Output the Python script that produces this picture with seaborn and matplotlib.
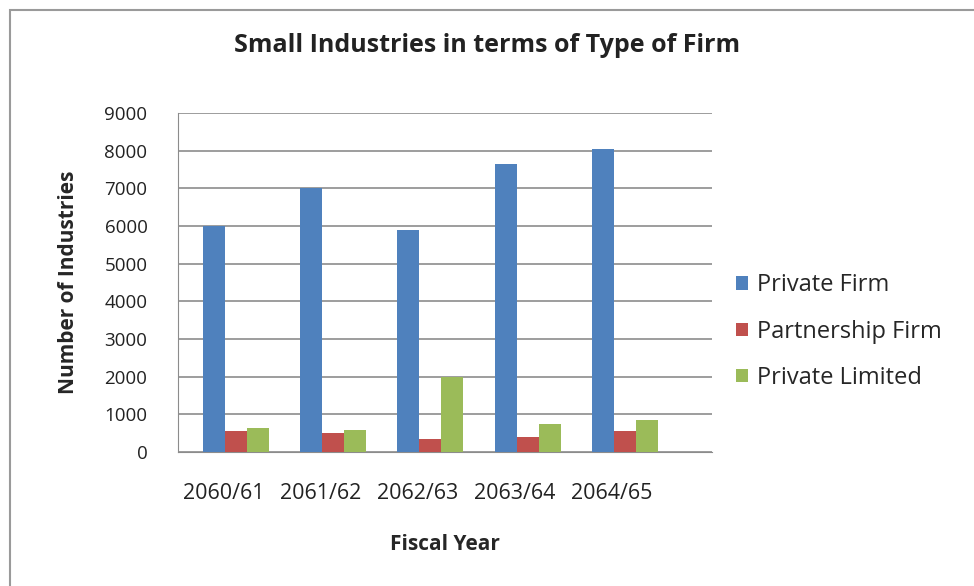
import pandas as pd
import seaborn as sns
import matplotlib.pyplot as plt
from matplotlib.patches import Rectangle
import numpy as np

years = ["2060/61", "2061/62", "2062/63", "2063/64", "2064/65"]
private_firm = [6000, 7000, 5900, 7650, 8050]
partnership_firm = [560, 500, 350, 400, 550]
private_limited = [650, 580, 2000, 750, 850]

series_names = ["Private Firm", "Partnership Firm", "Private Limited"]
colors = ["#4F81BD", "#C0504D", "#9BBB59"]

df = pd.DataFrame({
    "Year": years * 3,
    "Type": [s for s in series_names for _ in years],
    "Value": private_firm + partnership_firm + private_limited,
})

sns.set_style("white")
plt.rcParams['font.family'] = ['Open Sans', 'DejaVu Sans']

fig = plt.figure(figsize=(9.74, 5.86), dpi=100)
fig.patches.append(Rectangle((10 / 974, -0.01), 1.0, (586 - 10) / 586 + 0.01,
                             transform=fig.transFigure, fill=False,
                             edgecolor="#9a9a9a", linewidth=1.5))

ax = fig.add_axes([178 / 974, (586 - 452) / 586, 534 / 974, 339 / 586])
sns.barplot(data=df, x="Year", y="Value", hue="Type", palette=colors,
            saturation=1, width=0.68, ax=ax, legend=True,
            edgecolor="none", zorder=3)

ax.set_ylim(0, 9000)
ax.set_xlim(-0.6, 4.9)
ax.set_yticks(range(0, 9001, 1000))
ax.yaxis.grid(True, color="#8c8c8c", linewidth=1.2, zorder=0)
ax.set_xticks(np.arange(len(years)) - 0.13)
ax.set_xticklabels(years)
ax.tick_params(axis="both", colors="#222222", length=0)
ax.tick_params(axis="x", labelsize=15.5, pad=22)
ax.tick_params(axis="y", labelsize=13.5, pad=22)
for s in ["top", "right"]:
    ax.spines[s].set_visible(False)
ax.spines["left"].set_color("#8c8c8c")
ax.spines["bottom"].set_color("#8c8c8c")

ax.set_xlabel("Fiscal Year", weight="bold", size=15, labelpad=22)
ax.set_ylabel("Number of Industries", weight="bold", size=15, labelpad=18)
fig.text(0.5, 1 - 45 / 586, "Small Industries in terms of Type of Firm",
         ha="center", va="center", size=18, weight="bold", color="#222222")

ax.legend(title=None, loc="center left", bbox_to_anchor=(1.005, 0.355),
          frameon=False, fontsize=17, handlelength=0.5, handleheight=0.5,
          labelspacing=0.95, handletextpad=0.4)

fig.savefig("out.png", dpi=100)
